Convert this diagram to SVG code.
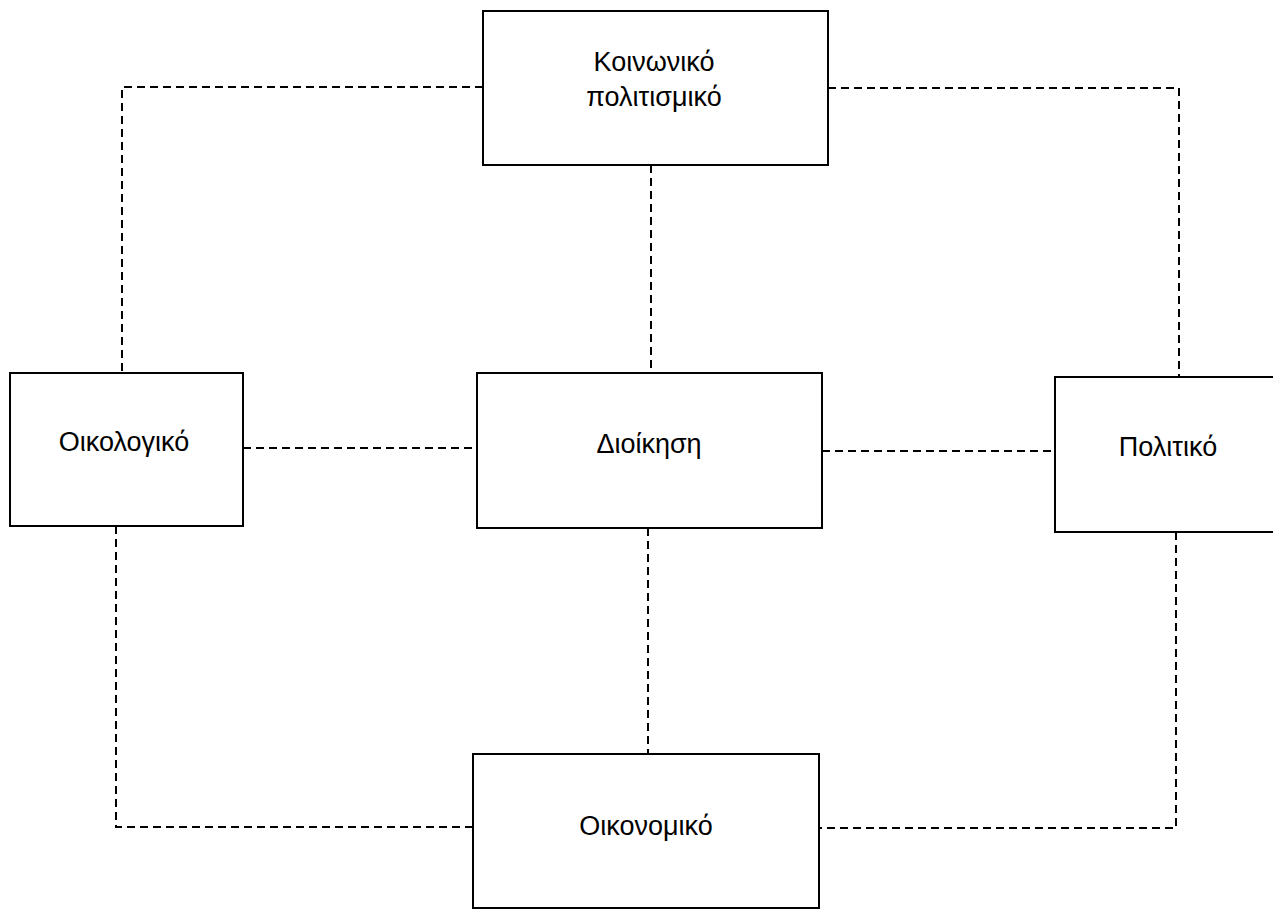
<svg xmlns="http://www.w3.org/2000/svg" width="1273" height="909" viewBox="0 0 1273 909">
<style>
.box{fill:#fff;stroke:#000;stroke-width:2}
.lbl{font-family:"Liberation Sans",Arial,sans-serif;font-size:27px;fill:#000;text-anchor:middle}
.conn{fill:none;stroke:#000;stroke-width:2;stroke-dasharray:8 5}
</style>
<rect width="1273" height="909" fill="#fff"/>
<g id="connectors">
<path class="conn" d="M483,87 H122 V373"/>
<path class="conn" d="M828,88 H1179 V377"/>
<path class="conn" d="M651,165 V373"/>
<path class="conn" d="M243,448 H477"/>
<path class="conn" d="M822,451 H1055"/>
<path class="conn" d="M648,528 V754"/>
<path class="conn" d="M116,526 V827 H473"/>
<path class="conn" d="M1176,532 V828 H819"/>
</g>
<g id="node-koinoniko">
<rect class="box" x="483" y="11" width="345" height="154"/>
<text class="lbl" x="654" y="71">Κοινωνικό</text>
<text class="lbl" x="654" y="106">πολιτισμικό</text>
</g>
<g id="node-oikologiko">
<rect class="box" x="10" y="373" width="233" height="153"/>
<text class="lbl" x="124" y="451">Οικολογικό</text>
</g>
<g id="node-dioikisi">
<rect class="box" x="477" y="373" width="345" height="155"/>
<text class="lbl" x="649" y="453">Διοίκηση</text>
</g>
<g id="node-politiko">
<rect class="box" x="1055" y="377" width="225" height="155"/>
<text class="lbl" x="1168" y="456">Πολιτικό</text>
</g>
<g id="node-oikonomiko">
<rect class="box" x="473" y="754" width="346" height="154"/>
<text class="lbl" x="646" y="835">Οικονομικό</text>
</g>
</svg>
